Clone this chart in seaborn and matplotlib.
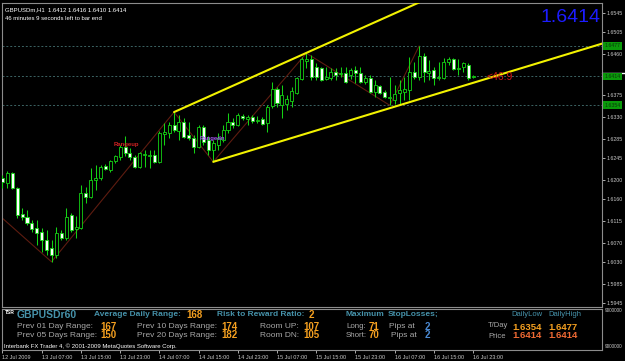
import matplotlib
matplotlib.use("Agg")
import matplotlib.pyplot as plt
import seaborn as sns
import numpy as np
import pandas as pd

# ---------------- data (GBPUSD H1, 12 Jul 23:00 .. 16 Jul 23:00) ----------------
opens = [1.6204, 1.6193, 1.6214, 1.6183, 1.6129, 1.6123, 1.6110, 1.6100, 1.6092, 1.6075,
         1.6059, 1.6044, 1.6090, 1.6079, 1.6127, 1.6098, 1.6100, 1.6172, 1.6164, 1.6199,
         1.6204, 1.6228, 1.6220, 1.6239, 1.6247, 1.6268, 1.6255, 1.6247, 1.6226, 1.6251,
         1.6249, 1.6251, 1.6237, 1.6295, 1.6297, 1.6313, 1.6301, 1.6319, 1.6293, 1.6286,
         1.6268, 1.6309, 1.6282, 1.6262, 1.6272, 1.6282, 1.6303, 1.6319, 1.6313, 1.6332,
         1.6326, 1.6330, 1.6322, 1.6326, 1.6317, 1.6353, 1.6388, 1.6355, 1.6357, 1.6363,
         1.6380, 1.6408, 1.6446, 1.6450, 1.6433, 1.6431, 1.6408, 1.6411, 1.6423, 1.6419,
         1.6421, 1.6417, 1.6427, 1.6421, 1.6402, 1.6411, 1.6382, 1.6394, 1.6382, 1.6369,
         1.6365, 1.6380, 1.6382, 1.6386, 1.6423, 1.6413, 1.6456, 1.6421, 1.6427, 1.6411,
         1.6411, 1.6444, 1.6450, 1.6429, 1.6433, 1.6437, 1.6412]
highs = [1.6210, 1.6218, 1.6216, 1.6185, 1.6141, 1.6137, 1.6117, 1.6117, 1.6100, 1.6096,
         1.6075, 1.6102, 1.6096, 1.6141, 1.6131, 1.6125, 1.6189, 1.6185, 1.6224, 1.6230,
         1.6230, 1.6232, 1.6241, 1.6251, 1.6272, 1.6290, 1.6266, 1.6251, 1.6257, 1.6262,
         1.6262, 1.6262, 1.6301, 1.6317, 1.6319, 1.6340, 1.6334, 1.6328, 1.6319, 1.6293,
         1.6313, 1.6313, 1.6290, 1.6282, 1.6297, 1.6313, 1.6338, 1.6328, 1.6338, 1.6336,
         1.6334, 1.6334, 1.6332, 1.6330, 1.6355, 1.6402, 1.6392, 1.6396, 1.6375, 1.6392,
         1.6413, 1.6454, 1.6462, 1.6458, 1.6442, 1.6433, 1.6433, 1.6431, 1.6431, 1.6433,
         1.6433, 1.6431, 1.6435, 1.6433, 1.6417, 1.6417, 1.6406, 1.6396, 1.6386, 1.6413,
         1.6396, 1.6406, 1.6413, 1.6454, 1.6444, 1.6477, 1.6462, 1.6448, 1.6433, 1.6444,
         1.6452, 1.6454, 1.6452, 1.6450, 1.6444, 1.6442, 1.6416]
lows = [1.6183, 1.6183, 1.6181, 1.6121, 1.6117, 1.6106, 1.6092, 1.6065, 1.6050, 1.6044,
        1.6030, 1.6038, 1.6075, 1.6075, 1.6092, 1.6079, 1.6098, 1.6152, 1.6162, 1.6179,
        1.6199, 1.6220, 1.6216, 1.6235, 1.6241, 1.6249, 1.6241, 1.6224, 1.6224, 1.6226,
        1.6224, 1.6235, 1.6235, 1.6272, 1.6286, 1.6299, 1.6282, 1.6286, 1.6282, 1.6255,
        1.6266, 1.6272, 1.6251, 1.6237, 1.6262, 1.6278, 1.6297, 1.6307, 1.6311, 1.6324,
        1.6313, 1.6317, 1.6317, 1.6313, 1.6299, 1.6348, 1.6351, 1.6328, 1.6344, 1.6351,
        1.6377, 1.6406, 1.6431, 1.6406, 1.6406, 1.6404, 1.6406, 1.6406, 1.6406, 1.6413,
        1.6400, 1.6408, 1.6400, 1.6400, 1.6398, 1.6380, 1.6371, 1.6377, 1.6369, 1.6354,
        1.6357, 1.6355, 1.6365, 1.6365, 1.6408, 1.6406, 1.6402, 1.6406, 1.6396, 1.6406,
        1.6408, 1.6437, 1.6427, 1.6417, 1.6423, 1.6406, 1.6410]
closes = [1.6195, 1.6214, 1.6183, 1.6127, 1.6123, 1.6110, 1.6098, 1.6090, 1.6075, 1.6055,
          1.6044, 1.6090, 1.6079, 1.6123, 1.6096, 1.6102, 1.6172, 1.6164, 1.6199, 1.6204,
          1.6226, 1.6222, 1.6239, 1.6249, 1.6268, 1.6255, 1.6247, 1.6226, 1.6255, 1.6253,
          1.6251, 1.6237, 1.6297, 1.6299, 1.6313, 1.6303, 1.6319, 1.6288, 1.6286, 1.6268,
          1.6309, 1.6278, 1.6262, 1.6276, 1.6286, 1.6303, 1.6319, 1.6313, 1.6334, 1.6328,
          1.6330, 1.6322, 1.6324, 1.6315, 1.6351, 1.6388, 1.6359, 1.6375, 1.6367, 1.6384,
          1.6411, 1.6450, 1.6450, 1.6413, 1.6413, 1.6406, 1.6413, 1.6423, 1.6417, 1.6421,
          1.6402, 1.6427, 1.6421, 1.6402, 1.6411, 1.6382, 1.6396, 1.6380, 1.6371, 1.6371,
          1.6377, 1.6386, 1.6388, 1.6423, 1.6413, 1.6456, 1.6423, 1.6425, 1.6411, 1.6413,
          1.6444, 1.6450, 1.6429, 1.6431, 1.6442, 1.6411, 1.6414]

time_tick_bars = [0, 8, 16, 24, 32, 40, 48, 56, 64, 72, 80, 88, 96]
time_tick_labels = ["12 Jul 2009", "13 Jul 07:00", "13 Jul 15:00", "13 Jul 23:00",
                    "14 Jul 07:00", "14 Jul 15:00", "14 Jul 23:00", "15 Jul 07:00",
                    "15 Jul 15:00", "15 Jul 23:00", "16 Jul 07:00", "16 Jul 15:00",
                    "16 Jul 23:00"]
price_ticks = [1.6545, 1.6505, 1.6460, 1.6375, 1.6330, 1.6285, 1.6245, 1.6200,
               1.6160, 1.6115, 1.6070, 1.6030, 1.5985, 1.5945]
level_prices = [1.6477, 1.6414, 1.6354]     # daily high, current, daily low

zigzag_bars = [-0.1, 10, 35, 43, 62, 79, 85]
zigzag_prices = [1.6121, 1.6030, 1.6340, 1.6237, 1.6462, 1.6354, 1.6477]
upper_line_bars = [35, 85]
upper_line_prices = [1.6340, 1.6567]
lower_line_bars = [43, 125]
lower_line_prices = [1.6237, 1.6490]

current_bar = [1.6412, 1.6416, 1.6410, 1.6414]
bid_price = 1.6414
ask_price = 1.6421
distance_label = "<46.9"

range_labels = ["Prev 01 Day Range:", "Prev 05 Days Range:", "Prev 10 Days Range:", "Prev 20 Days Range:"]
range_values = [167, 150, 174, 182]
avg_daily_range = 168
risk_reward = 2
room_labels = ["Room UP:", "Room DN:"]
room_values = [107, 105]
sl_labels = ["Long:", "Short:"]
sl_values = [71, 70]
sl_pips_at = [2, 2]
daily_low = [1.6354, 1.6414]
daily_high = [1.6477, 1.6414]

# ---------------- style ----------------
sns.set_theme(style="dark", rc={"axes.facecolor": "black", "figure.facecolor": "black",
                                "axes.grid": False, "axes.edgecolor": "#8c8c8c"})
plt.rcParams["font.family"] = ["Liberation Sans", "DejaVu Sans"]

W, H = 625, 361
fig = plt.figure(figsize=(W / 100, H / 100), dpi=100, facecolor="black")
def fx(px): return px / W
def fy(py): return 1 - py / H

ax = fig.add_axes([fx(2), fy(307), fx(600), 304 / H])
sub = fig.add_axes([fx(2), fy(350), fx(600), 41 / H])
for a in (ax, sub):
    a.set_facecolor("black")
    for s in a.spines.values():
        s.set_color("#8c8c8c")
        s.set_linewidth(0.8)

GREEN = "#14d214"
df = pd.DataFrame({"bar": np.arange(len(opens)), "open": opens, "high": highs,
                   "low": lows, "close": closes})
df["bull"] = df["close"] >= df["open"]
df["bottom"] = df[["open", "close"]].min(axis=1)
df["height"] = (df["close"] - df["open"]).abs().clip(lower=0.00004)

# levels
for p in level_prices:
    ax.axhline(p, color="#3c6464", lw=0.7, ls=(0, (2, 2)), zorder=1)

# zigzag + trend lines via seaborn
sns.lineplot(x=zigzag_bars, y=zigzag_prices, ax=ax, color="#5e1c10", lw=0.8,
             sort=False, estimator=None, zorder=2)
sns.lineplot(x=upper_line_bars, y=upper_line_prices, ax=ax, color="#f2f200", lw=1.5,
             estimator=None, zorder=4)
sns.lineplot(x=lower_line_bars, y=lower_line_prices, ax=ax, color="#f2f200", lw=1.5,
             estimator=None, zorder=4)

# candles
ax.vlines(df["bar"], df["low"], df["high"], color=GREEN, lw=0.75, zorder=3)
ax.bar(df["bar"], df["height"], bottom=df["bottom"], width=0.62,
       color=np.where(df["bull"], "black", "white"), edgecolor=GREEN, linewidth=0.6, zorder=3)

ax.set_xlim(-0.1, 122.3)
ax.set_ylim(1.59365, 1.65658)
sub.set_xlim(-0.1, 122.3)
sub.set_ylim(0, 1)

# right price axis
ax.yaxis.tick_right()
ax.set_yticks(price_ticks)
ax.set_yticklabels([f"{t:.4f}" for t in price_ticks])
ax.tick_params(axis="y", colors="#c8c8c8", labelsize=3.8, length=2, width=0.6, pad=1.5,
               direction="out", right=True, left=False)
ax.tick_params(axis="x", bottom=False, labelbottom=False)
ax.set_xlabel("")
ax.set_ylabel("")
for p in level_prices:
    ax.text(1.004, p, f"{p:.4f}", transform=ax.get_yaxis_transform(), fontsize=3.8,
            color="#0a3a0a", va="center", ha="left", clip_on=False,
            bbox=dict(boxstyle="square,pad=0.25", fc="#0a9a0a", ec="none"))
ax.plot([1.0, 1.04], [ask_price, ask_price], transform=ax.get_yaxis_transform(),
        color="white", lw=1.0, clip_on=False)

# time axis on sub window
sub.set_yticks([])
sub.set_xticks(time_tick_bars)
sub.set_xticklabels(time_tick_labels)
sub.tick_params(axis="x", colors="#c8c8c8", labelsize=4, length=2, width=0.6, pad=1.5,
                direction="out", bottom=True)
for lbl in sub.get_xticklabels():
    lbl.set_ha("left")

# chart texts
ax.text(0.005, 0.985, "GBPUSDm,H1  " + " ".join(f"{v:.4f}" for v in current_bar),
        transform=ax.transAxes, color="white", fontsize=4.3, va="top", ha="left")
ax.text(0.005, 0.958, "46 minutes 9 seconds left to bar end", transform=ax.transAxes,
        color="white", fontsize=4.3, va="top", ha="left")
fig.text(fx(540), fy(17), f"{bid_price:.4f}", color="#1c1cff", fontsize=14,
         va="center", ha="left")
ax.text(22.6, 1.6272, "Rangeup", color="#d02222", fontsize=4.3, fontweight="bold",
        va="center", zorder=5)
ax.text(40.3, 1.6286, "Rangedn", color="#a458f0", fontsize=4.3, fontweight="bold",
        va="center", zorder=5)
ax.text(98.8, 1.6412, distance_label, color="#d01818", fontsize=7.5, va="center",
        ha="left", zorder=6)

# info panel
TEAL, ORANGE, GRAY, BLUE, RED = "#4692aa", "#f5a020", "#a8a8a8", "#4a88d0", "#f06a34"
def put(x, y, s, color, size, bold=False):
    fig.text(fx(x), fy(y), s, color=color, fontsize=size,
             fontweight="bold" if bold else "normal", va="center", ha="left")

put(5, 313, "TSR", "white", 3.6, True)
put(17, 315, "GBPUSDr60", TEAL, 7.5, True)
put(94, 315, "Average Daily Range:", TEAL, 6, True)
put(186, 315, str(avg_daily_range), ORANGE, 7, True)
put(217, 315, "Risk to Reward Ratio:", TEAL, 6, True)
put(309, 315, str(risk_reward), ORANGE, 7, True)
put(346, 315, "Maximum", TEAL, 6, True)
put(388, 315, "StopLosses;", TEAL, 6, True)
put(511, 314, "DailyLow", TEAL, 5.5)
put(548, 314, "DailyHigh", TEAL, 5.5)

rows_y = [327, 335.5]
for i, y in enumerate(rows_y):
    put(17, y, range_labels[i], GRAY, 6.0)
    put(100, y, str(range_values[i]), ORANGE, 7, True)
    put(137, y, range_labels[i + 2], GRAY, 6.0)
    put(221, y, str(range_values[i + 2]), ORANGE, 7, True)
    put(260, y, room_labels[i], GRAY, 6.0)
    put(303, y, str(room_values[i]), ORANGE, 7, True)
    put(346, y, sl_labels[i], GRAY, 5.7)
    put(369, y, str(sl_values[i]), ORANGE, 7, True)
    put(389 + 2 * i, y, "Pips at", GRAY, 6.0)
    put(425, y, str(sl_pips_at[i]), BLUE, 7, True)
put(488, 325.5, "T/Day", GRAY, 5.5)
put(488, 336, "Price", GRAY, 5.5)
put(512, 327, f"{daily_low[0]:.4f}", ORANGE, 6.8, True)
put(548, 327, f"{daily_high[0]:.4f}", ORANGE, 6.8, True)
put(512, 336, f"{daily_low[1]:.4f}", RED, 6.8, True)
put(548, 336, f"{daily_high[1]:.4f}", RED, 6.8, True)
put(4, 346, "Interbank FX Trader 4, \u00a9 2001-2009 MetaQuotes Software Corp.", "white", 4.3)
put(605, 310, "9000000", "#c8c8c8", 3.3)
put(605, 346, "9000000", "#c8c8c8", 3.3)

fig.savefig("out.png", dpi=100, facecolor="black")
